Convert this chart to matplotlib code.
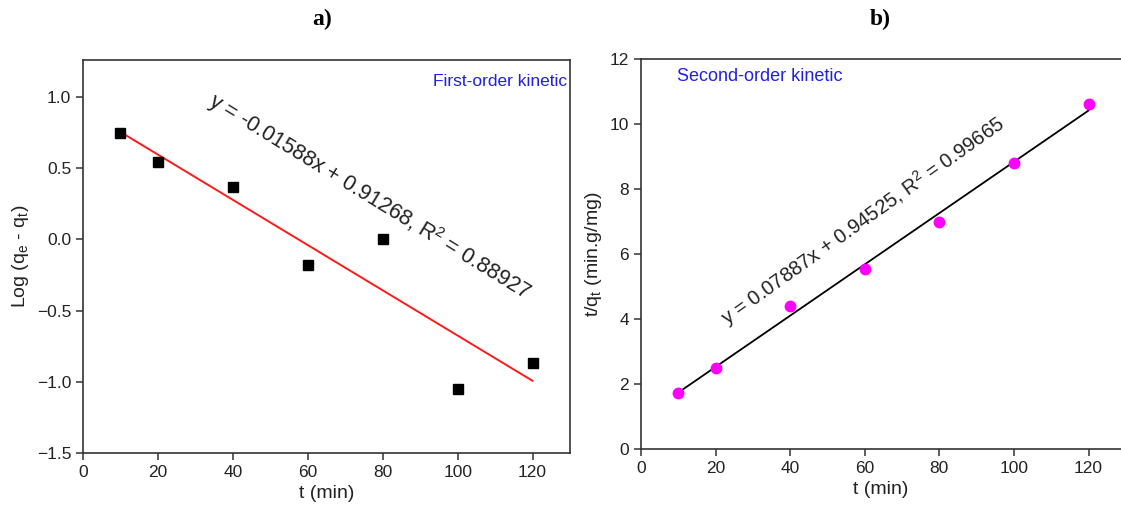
import matplotlib.pyplot as plt
import numpy as np

plt.rcParams['font.family'] = ['Liberation Sans', 'DejaVu Sans']
plt.rcParams['mathtext.fontset'] = 'custom'
plt.rcParams['mathtext.rm'] = 'Liberation Sans'
plt.rcParams['mathtext.it'] = 'Liberation Sans:italic'

# first-order kinetic data
t_first = [10, 20, 40, 60, 80, 100, 120]
log_qe_qt = [0.75, 0.54, 0.37, -0.18, 0.0, -1.05, -0.87]
slope_first, icpt_first = -0.01588, 0.91268

# second-order kinetic data
t_second = [10, 20, 40, 60, 80, 100, 120]
t_over_qt = [1.72, 2.50, 4.40, 5.55, 6.98, 8.80, 10.60]
slope_second, icpt_second = 0.07887, 0.94525

text_col = '#222222'
spine_col = '#333333'

fig = plt.figure(figsize=(11.21, 5.16), dpi=100)
ax1 = fig.add_axes([0.074, 0.122, 0.4345, 0.762])
ax2 = fig.add_axes([0.5718, 0.130, 0.4282, 0.756])


def style_axes(ax):
    for s in ax.spines.values():
        s.set_color(spine_col)
        s.set_linewidth(1.2)
    ax.tick_params(direction='out', length=5, width=1.1, color=spine_col,
                   labelsize=12.5, labelcolor=text_col, top=False, right=False)


# panel a
fit_x = np.array([t_first[0], t_first[-1]])
ax1.plot(fit_x, slope_first * fit_x + icpt_first, color='#ff1a1a', lw=1.4, zorder=2)
ax1.plot(t_first, log_qe_qt, 's', color='black', ms=7, zorder=3)
ax1.set_xlim(0, 130)
ax1.set_ylim(-1.5, 1.26)
ax1.set_xticks([0, 20, 40, 60, 80, 100, 120])
ax1.set_yticks([-1.5, -1.0, -0.5, 0.0, 0.5, 1.0])
ax1.set_yticklabels(['\u22121.5', '\u22121.0', '\u22120.5', '0.0', '0.5', '1.0'])
style_axes(ax1)
ax1.set_xlabel('t (min)', fontsize=14, color=text_col)
ax1.set_ylabel(r'Log (q$_\mathrm{e}$ - q$_\mathrm{t}$)', fontsize=14, color=text_col)
ax1.text(0.995, 0.965, 'First-order kinetic', transform=ax1.transAxes,
         ha='right', va='top', color='#2020e6', fontsize=12.5)
ax1.text(76.5, 0.30, r'y = -0.01588x + 0.91268, R$^\mathrm{2}$ = 0.88927', rotation=-31.5,
         rotation_mode='anchor', ha='center', va='center', fontsize=15.5, color=text_col)
fig.text(0.287, 0.963, 'a)', ha='center', va='center', fontsize=17,
         fontweight='bold', family='Liberation Serif')

# panel b
fit_x2 = np.array([t_second[0], t_second[-1]])
ax2.plot(fit_x2, slope_second * fit_x2 + icpt_second, color='black', lw=1.3, zorder=2)
ax2.plot(t_second, t_over_qt, 'o', color='#ff00ff', ms=7.5, zorder=3)
ax2.set_xlim(0, 128.7)
ax2.set_ylim(0, 12)
ax2.set_xticks([0, 20, 40, 60, 80, 100, 120])
ax2.set_yticks([0, 2, 4, 6, 8, 10, 12])
style_axes(ax2)
ax2.spines['right'].set_visible(False)
ax2.set_xlabel('t (min)', fontsize=14, color=text_col)
ax2.set_ylabel(r't/q$_\mathrm{t}$ (min.g/mg)', fontsize=14, color=text_col)
ax2.text(0.075, 0.955, 'Second-order kinetic', transform=ax2.transAxes,
         ha='left', va='center', color='#2020e6', fontsize=13)
ax2.text(59.5, 7.0, r'y = 0.07887x + 0.94525, R$^\mathrm{2}$ = 0.99665', rotation=35.5,
         rotation_mode='anchor', ha='center', va='center', fontsize=14.5, color=text_col)
fig.text(0.785, 0.963, 'b)', ha='center', va='center', fontsize=17,
         fontweight='bold', family='Liberation Serif')

fig.savefig('out.png', dpi=100)
